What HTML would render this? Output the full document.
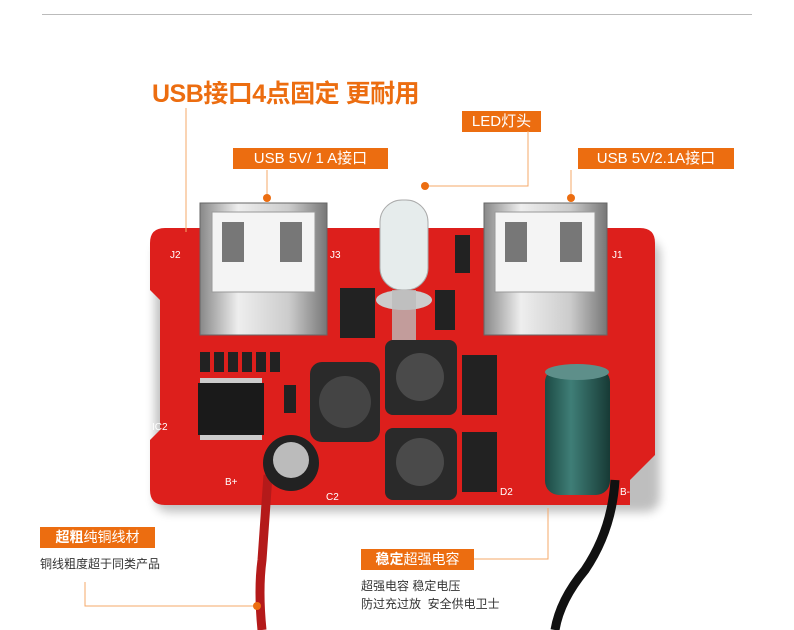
<!DOCTYPE html>
<html><head><meta charset="utf-8"><style>
body{margin:0;width:794px;height:630px;background:#fff;position:relative;overflow:hidden;font-family:"Liberation Sans","Noto Sans CJK SC",sans-serif}
.a{position:absolute}
.lbl{position:absolute;background:#ec6d10;color:#fff;font-size:15px;line-height:21px;text-align:center}
.t{position:absolute;color:#333;font-size:12px;line-height:18px}
</style></head><body>
<div class="a" style="left:42px;top:14px;width:710px;height:1px;background:#bbb"></div>
<div class="a" style="left:152px;top:74px;color:#ec6d10;font-size:25px;font-weight:bold;letter-spacing:-0.5px">USB接口4点固定 更耐用</div>
<div class="lbl" style="left:462px;top:111px;width:79px">LED灯头</div>
<div class="lbl" style="left:233px;top:148px;width:155px">USB 5V/ 1 A接口</div>
<div class="lbl" style="left:578px;top:148px;width:156px">USB 5V/2.1A接口</div>
<div class="lbl" style="left:40px;top:527px;width:115px;font-size:14px"><b>超粗</b>纯铜线材</div>
<div class="t" style="left:40px;top:555px">铜线粗度超于同类产品</div>
<div class="lbl" style="left:361px;top:549px;width:113px;font-size:14px"><b>稳定</b>超强电容</div>
<div class="t" style="left:361px;top:577px">超强电容 稳定电压</div>
<div class="t" style="left:361px;top:595px">防过充过放&nbsp; 安全供电卫士</div>
<svg class="a" style="left:0;top:0" width="794" height="630">
<defs>
<linearGradient id="sv" x1="0" x2="1"><stop offset="0" stop-color="#888"/><stop offset=".3" stop-color="#eee"/><stop offset=".7" stop-color="#ccc"/><stop offset="1" stop-color="#777"/></linearGradient>
<linearGradient id="cp" x1="0" x2="1"><stop offset="0" stop-color="#1c4a44"/><stop offset=".4" stop-color="#3f7e77"/><stop offset="1" stop-color="#173a35"/></linearGradient>
<filter id="sh"><feGaussianBlur stdDeviation="5"/></filter>
</defs>
<rect x="155" y="240" width="505" height="272" rx="14" fill="#000" opacity=".25" filter="url(#sh)"/>
<path d="M165 228 H640 Q655 228 655 243 V455 L630 480 V505 H165 Q150 505 150 490 V440 L160 430 V300 L150 290 V243 Q150 228 165 228Z" fill="#dd1f1c"/>
<!-- IC and parts -->
<rect x="198" y="383" width="66" height="52" fill="#1a1a1a"/>
<g fill="#ccc"><rect x="200" y="378" width="62" height="5"/><rect x="200" y="435" width="62" height="5"/></g>
<g fill="#222"><rect x="200" y="352" width="10" height="20"/><rect x="214" y="352" width="10" height="20"/><rect x="228" y="352" width="10" height="20"/><rect x="242" y="352" width="10" height="20"/><rect x="256" y="352" width="10" height="20"/><rect x="270" y="352" width="10" height="20"/><rect x="284" y="385" width="12" height="28"/><rect x="340" y="288" width="35" height="50"/><rect x="462" y="355" width="35" height="60"/><rect x="462" y="432" width="35" height="60"/><rect x="435" y="290" width="20" height="40"/><rect x="455" y="235" width="15" height="38"/></g>
<rect x="310" y="362" width="70" height="80" rx="12" fill="#2a2a2a"/><circle cx="345" cy="402" r="26" fill="#444"/>
<rect x="385" y="340" width="72" height="75" rx="8" fill="#2a2a2a"/><circle cx="420" cy="377" r="24" fill="#4a4a4a"/>
<rect x="385" y="428" width="72" height="72" rx="8" fill="#2a2a2a"/><circle cx="420" cy="462" r="24" fill="#4a4a4a"/>
<!-- USB ports -->
<rect x="200" y="203" width="127" height="132" fill="url(#sv)" stroke="#666"/>
<rect x="212" y="212" width="103" height="80" fill="#f4f4f4" stroke="#999"/>
<rect x="222" y="222" width="22" height="40" fill="#777"/><rect x="280" y="222" width="22" height="40" fill="#777"/>
<rect x="484" y="203" width="123" height="132" fill="url(#sv)" stroke="#666"/>
<rect x="495" y="212" width="100" height="80" fill="#f4f4f4" stroke="#999"/>
<rect x="505" y="222" width="22" height="40" fill="#777"/><rect x="560" y="222" width="22" height="40" fill="#777"/>
<!-- LED -->
<rect x="380" y="200" width="48" height="90" rx="22" fill="#e6ecec" stroke="#aaa"/>
<ellipse cx="404" cy="300" rx="28" ry="10" fill="#ccc"/>
<rect x="392" y="290" width="24" height="50" fill="#bbb" opacity=".8"/>
<!-- capacitors -->
<path d="M268 475 Q265 520 262 560 Q258 590 262 630" stroke="#b41a1a" stroke-width="9" fill="none"/>
<circle cx="291" cy="463" r="28" fill="#222"/><circle cx="291" cy="460" r="18" fill="#bbb"/>
<path d="M615 480 Q612 530 585 570 Q560 600 555 630" stroke="#111" stroke-width="9" fill="none"/>
<rect x="545" y="368" width="65" height="127" rx="14" fill="url(#cp)"/>
<ellipse cx="577" cy="372" rx="32" ry="8" fill="#5e8f8a"/>
<!-- leaders -->
<g stroke="#f5a869" stroke-width="1" fill="none">
<path d="M186 108V232"/><path d="M267 170V198"/><path d="M528 131V186H425"/><path d="M571 170V198"/>
<path d="M85 582V606H257"/><path d="M474 559H548V508"/></g>
<g fill="#ec6d10"><circle cx="267" cy="198" r="4"/><circle cx="425" cy="186" r="4"/><circle cx="571" cy="198" r="4"/><circle cx="257" cy="606" r="4"/></g>
<g fill="#fff" font-size="10" font-family="Liberation Sans">
<text x="170" y="258">J2</text><text x="330" y="258">J3</text><text x="612" y="258">J1</text>
<text x="152" y="430">IC2</text><text x="326" y="500">C2</text><text x="500" y="495">D2</text><text x="620" y="495">B-</text><text x="225" y="485">B+</text></g>
</svg>
</body></html>
